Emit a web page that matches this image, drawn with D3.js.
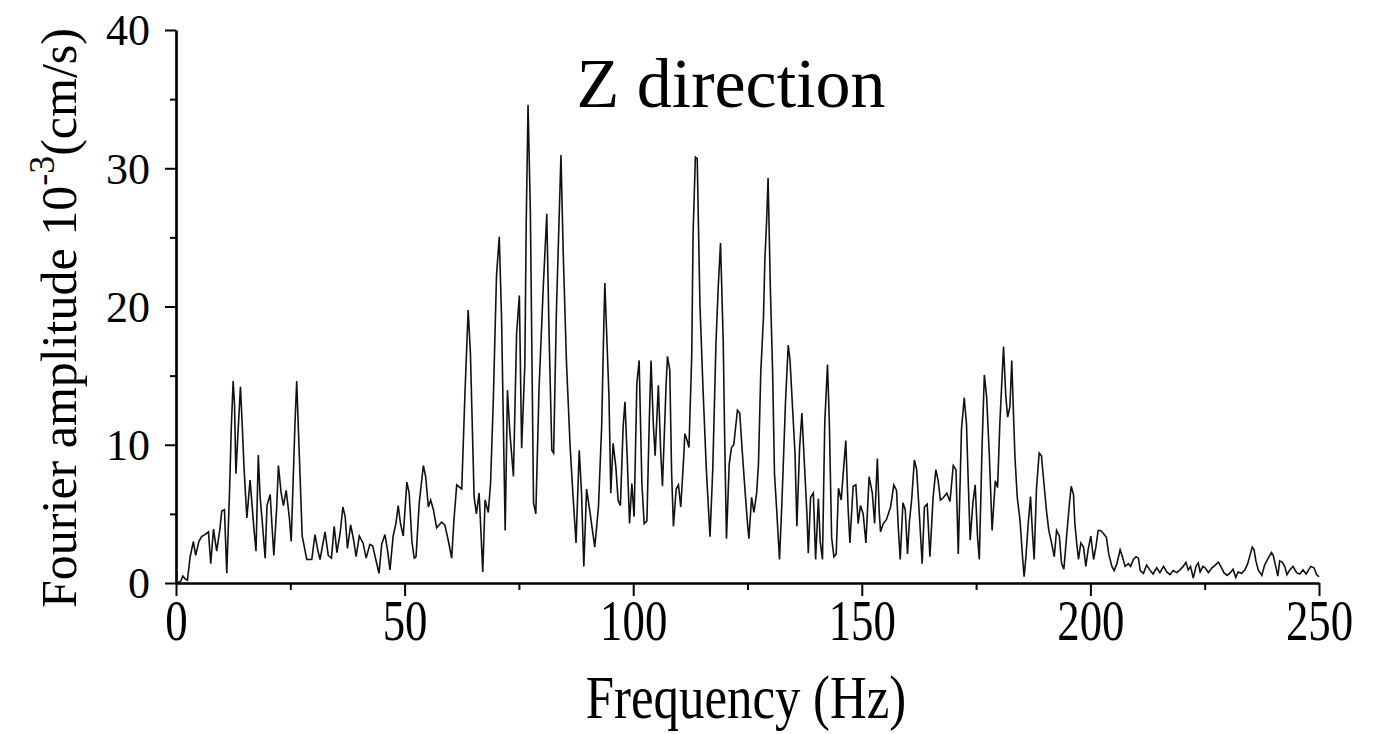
<!DOCTYPE html>
<html>
<head>
<meta charset="utf-8">
<script src="https://cdn.jsdelivr.net/npm/d3@7/dist/d3.min.js"></script>
<style>
  html, body { margin: 0; padding: 0; background: #fff; }
  svg { display: block; }
  text { font-family: "Liberation Serif", "Times New Roman", serif; fill: #000; }
</style>
</head>
<body>
<svg id="chart" width="1377" height="734"></svg>
<script>
// Fourier amplitude spectrum, Z direction (frequency in Hz, amplitude in 10^-3 cm/s)
const freqHz = [
  0.0, 1.0, 1.5, 2.0, 2.5, 3.1, 3.8, 4.3, 5.0, 5.6, 6.3, 7.1, 7.6, 8.2, 8.9, 9.6, 10.0, 10.6, 11.1, 11.7,
  12.1, 12.5, 12.8, 13.1, 13.5, 14.1, 14.5, 14.9, 15.5, 16.2, 16.6, 17.0, 17.5, 18.0, 18.4, 18.8, 19.5, 19.9, 20.6, 21.0,
  21.4, 22.0, 22.4, 23.0, 23.5, 24.1, 24.8, 25.2, 26.0, 26.4, 27.0, 27.6, 28.6, 29.7, 30.4, 31.0, 31.5, 32.6, 33.3, 34.0,
  34.6, 35.2, 35.9, 36.5, 37.0, 37.5, 38.2, 38.8, 39.4, 40.1, 40.9, 41.6, 42.4, 43.0, 43.7, 44.4, 45.0, 45.7, 46.3, 46.8,
  47.5, 48.1, 48.6, 49.1, 49.7, 50.5, 51.0, 51.6, 52.1, 52.5, 53.2, 54.1, 54.6, 55.2, 55.7, 56.3, 57.0, 58.1, 58.8, 59.6,
  60.3, 60.8, 61.4, 62.5, 63.2, 63.9, 64.4, 65.2, 65.7, 66.3, 67.1, 67.6, 68.3, 68.8, 69.4, 70.1, 70.7, 71.2, 72.0, 72.5,
  73.0, 73.8, 74.5, 75.1, 75.6, 76.3, 76.6, 77.0, 77.5, 78.2, 78.7, 79.4, 80.3, 81.1, 81.6, 82.2, 82.6, 83.2, 84.2, 84.7,
  85.4, 86.2, 86.8, 87.5, 88.2, 88.7, 89.2, 89.8, 90.6, 91.0, 91.6, 92.4, 93.1, 93.6, 93.8, 94.3, 94.7, 95.1, 95.6, 96.2,
  96.7, 97.2, 97.8, 98.2, 98.7, 99.2, 99.7, 100.2, 100.8, 101.3, 101.9, 102.4, 103.0, 103.5, 103.9, 104.4, 104.8, 105.5, 106.0, 106.4,
  107.2, 107.5, 108.0, 108.4, 108.8, 109.4, 109.9, 110.4, 111.0, 111.3, 111.8, 112.2, 112.8, 113.1, 113.6, 114.0, 114.6, 115.3, 116.0, 116.8,
  117.4, 118.1, 118.6, 119.1, 119.7, 120.0, 120.4, 121.0, 121.5, 122.0, 122.8, 123.3, 123.9, 124.5, 125.0, 125.3, 125.9, 126.4, 127.0, 127.4,
  127.9, 128.5, 128.8, 129.2, 129.5, 130.0, 130.5, 130.9, 131.4, 132.0, 132.5, 132.8, 133.3, 133.9, 134.3, 134.9, 135.4, 135.8, 136.4, 136.9,
  137.4, 138.0, 138.3, 138.8, 139.4, 139.9, 140.5, 140.9, 141.4, 141.9, 142.5, 142.9, 143.4, 143.9, 144.4, 144.9, 145.5, 146.0, 146.5, 147.0,
  147.4, 148.1, 148.7, 149.2, 149.7, 150.3, 150.9, 151.6, 152.3, 152.8, 153.4, 153.8, 154.1, 154.7, 155.4, 156.3, 157.0, 157.6, 158.0, 158.4,
  159.0, 159.5, 160.0, 160.4, 160.9, 161.5, 162.0, 162.6, 163.2, 163.7, 164.3, 164.9, 165.6, 166.2, 166.7, 167.2, 167.9, 168.6, 169.3, 170.0,
  170.6, 171.1, 171.8, 172.4, 172.9, 173.2, 173.7, 174.3, 174.8, 175.3, 175.7, 176.3, 176.8, 177.3, 177.9, 178.5, 179.2, 179.7, 180.2, 181.0,
  181.5, 181.9, 182.4, 182.8, 183.2, 183.5, 184.0, 184.6, 185.2, 185.5, 185.9, 186.4, 186.9, 187.3, 187.7, 188.2, 188.8, 189.3, 189.7, 190.4,
  190.9, 191.5, 192.1, 192.6, 193.2, 193.7, 194.2, 194.8, 195.4, 195.8, 196.3, 196.6, 197.0, 197.4, 197.9, 198.5, 199.0, 199.5, 200.1, 200.7,
  201.2, 201.7, 202.2, 202.8, 203.5, 204.0, 204.7, 205.2, 205.8, 206.5, 207.0, 207.6, 208.3, 208.8, 209.4, 210.0, 210.5, 210.9, 211.6, 212.3,
  213.0, 213.7, 214.5, 215.2, 216.0, 216.7, 217.4, 218.1, 218.9, 219.6, 220.3, 220.9, 221.4, 221.9, 222.5, 223.1, 223.6, 224.0, 224.6, 225.1,
  225.8, 226.6, 227.3, 228.0, 228.7, 229.2, 229.9, 230.6, 231.2, 231.8, 232.3, 233.1, 233.8, 234.4, 234.9, 235.4, 235.8, 236.2, 236.7, 237.5,
  238.1, 238.9, 239.6, 240.0, 240.4, 241.0, 241.4, 242.0, 242.5, 243.0, 243.6, 244.3, 245.1, 245.8, 246.5, 247.2, 248.2, 248.9, 249.5, 250.0
];

const amplitude = [
  0.0, 0.1, 0.5, 0.3, 0.2, 1.9, 3.0, 2.0, 3.0, 3.35, 3.5, 3.7, 1.4, 3.9, 2.3, 3.9, 5.2, 5.3, 0.7, 6.5,
  11.3, 14.6, 12.9, 7.9, 10.5, 14.2, 11.3, 8.2, 4.7, 7.45, 5.8, 4.1, 2.3, 9.25, 6.2, 4.7, 1.8, 5.6, 6.4, 4.1,
  2.0, 5.3, 8.5, 6.5, 5.6, 6.7, 4.7, 3.0, 11.3, 14.6, 9.0, 3.4, 1.7, 1.7, 3.5, 2.4, 1.7, 3.7, 2.0, 1.8,
  4.1, 2.2, 3.6, 5.5, 4.8, 2.5, 4.2, 3.2, 1.9, 3.4, 2.9, 1.8, 2.8, 2.7, 1.7, 0.7, 2.8, 3.5, 2.3, 0.95,
  3.4, 4.3, 5.6, 4.3, 3.4, 7.3, 6.5, 3.0, 1.8, 1.9, 5.8, 8.5, 7.7, 5.5, 6.0, 5.3, 4.0, 4.4, 4.2, 3.0,
  1.8, 4.6, 7.1, 6.8, 13.7, 19.75, 16.6, 6.25, 5.0, 6.5, 0.8, 6.0, 5.1, 7.2, 13.2, 22.2, 25.05, 19.3, 3.8, 13.95,
  11.0, 7.7, 18.05, 20.8, 9.75, 15.8, 26.0, 34.6, 27.0, 5.8, 5.0, 14.0, 21.2, 26.7, 18.0, 9.6, 9.4, 19.6, 30.95, 23.8,
  16.0, 9.9, 6.5, 2.9, 9.6, 6.5, 1.2, 6.8, 5.0, 4.0, 2.6, 5.5, 11.3, 19.1, 21.7, 17.1, 13.5, 6.5, 10.1, 8.4,
  6.0, 5.6, 11.3, 13.1, 9.0, 4.3, 7.2, 4.8, 14.45, 16.1, 7.2, 4.3, 4.5, 11.5, 16.1, 11.5, 9.2, 14.3, 9.6, 7.0,
  14.4, 16.4, 15.4, 8.0, 4.1, 6.8, 7.1, 5.5, 8.8, 10.8, 10.3, 9.8, 16.4, 25.3, 30.8, 30.7, 20.1, 13.8, 8.2, 3.35,
  8.2, 17.3, 21.4, 24.6, 17.3, 10.6, 3.2, 8.6, 9.8, 10.0, 12.5, 12.3, 9.3, 6.5, 4.3, 3.2, 6.2, 5.1, 6.5, 8.6,
  15.2, 19.3, 23.4, 26.3, 29.3, 21.3, 15.2, 7.9, 5.2, 1.7, 5.6, 8.3, 13.0, 17.2, 16.1, 12.4, 9.3, 4.1, 9.8, 12.3,
  8.9, 5.0, 2.15, 6.2, 6.5, 1.7, 6.1, 3.0, 1.7, 11.6, 15.8, 11.6, 3.3, 1.9, 2.1, 6.85, 6.0, 8.2, 10.3, 5.4,
  2.9, 7.0, 7.1, 4.3, 5.6, 5.0, 2.9, 7.7, 6.5, 4.3, 9.0, 5.2, 3.7, 4.3, 4.6, 5.5, 7.1, 6.7, 3.9, 1.7,
  5.8, 5.3, 2.1, 4.4, 6.0, 8.9, 8.2, 4.9, 1.4, 5.5, 5.7, 1.9, 6.2, 8.2, 7.4, 6.0, 6.2, 6.5, 5.9, 8.5,
  8.2, 2.1, 11.1, 13.4, 11.5, 8.2, 3.1, 5.8, 7.1, 3.4, 1.7, 9.8, 15.05, 13.5, 9.2, 3.8, 7.4, 6.9, 11.6, 17.1,
  13.5, 12.0, 12.75, 16.1, 12.0, 9.1, 6.2, 4.55, 1.7, 0.45, 1.9, 4.3, 6.25, 3.8, 1.7, 6.8, 9.4, 9.2, 7.7, 5.2,
  3.8, 2.9, 1.9, 3.8, 3.4, 1.4, 1.0, 3.4, 5.7, 7.0, 6.4, 4.3, 2.9, 1.7, 2.9, 2.6, 1.2, 2.4, 3.4, 1.7,
  2.6, 3.8, 3.8, 3.6, 3.3, 2.1, 1.2, 0.9, 1.4, 2.4, 1.9, 1.2, 1.4, 1.2, 1.7, 1.9, 1.8, 0.9, 0.7, 1.3,
  0.95, 0.65, 1.1, 0.75, 1.2, 0.8, 0.6, 0.9, 0.75, 0.95, 1.2, 1.5, 0.95, 1.2, 0.35, 1.2, 1.45, 0.8, 1.2, 1.1,
  0.75, 1.1, 1.3, 1.5, 1.1, 0.75, 0.55, 0.75, 1.0, 0.4, 0.8, 0.7, 0.95, 1.4, 2.0, 2.6, 2.4, 1.6, 0.95, 0.55,
  1.3, 1.8, 2.2, 2.0, 1.4, 0.5, 1.6, 1.5, 1.2, 0.6, 0.95, 1.2, 0.75, 0.65, 0.95, 0.65, 1.2, 1.1, 0.6, 0.45
];

const xMajorTicks = [0, 50, 100, 150, 200, 250];
const xMinorTicks = [25, 75, 125, 175, 225];
const yMajorTicks = [0, 10, 20, 30, 40];
const yMinorTicks = [5, 15, 25, 35];

const titleText = "Z direction";
const xTitle = "Frequency (Hz)";
const yTitleMain = "Fourier amplitude 10";
const yTitleExp = "-3";
const yTitleUnit = "(cm/s)";

const svg = d3.select("#chart");
const plot = { left: 176, right: 1319, top: 30, bottom: 583 };

const x = d3.scaleLinear().domain([0, 250]).range([plot.left, plot.right]);
const y = d3.scaleLinear().domain([0, 40]).range([plot.bottom, plot.top]);

const series = freqHz.map((f, i) => ({ f, a: amplitude[i] }));

// spectrum trace
svg.append("path")
  .datum(series)
  .attr("fill", "none")
  .attr("stroke", "#111")
  .attr("stroke-width", 1.6)
  .attr("stroke-linejoin", "miter")
  .attr("d", d3.line().x(d => x(d.f)).y(d => y(d.a)));

// axes
function styleAxis(g) {
  g.select(".domain").attr("stroke", "#000").attr("stroke-width", 2.2);
  g.selectAll(".tick line").attr("stroke", "#000").attr("stroke-width", 2);
}

const xAxisMajor = svg.append("g")
  .attr("transform", `translate(0,${plot.bottom})`)
  .call(d3.axisBottom(x).tickValues(xMajorTicks).tickSize(13).tickSizeOuter(0).tickFormat(d3.format("d")));
styleAxis(xAxisMajor);
// condensed tick labels, centred under each tick
xAxisMajor.selectAll(".tick text")
  .attr("font-size", 56)
  .attr("x", 0)
  .attr("y", 0)
  .attr("dy", 0)
  .attr("transform", "translate(0,57) scale(0.8,1)")
  .style("font-family", "'Liberation Serif', serif");

const xAxisMinor = svg.append("g")
  .attr("transform", `translate(0,${plot.bottom})`)
  .call(d3.axisBottom(x).tickValues(xMinorTicks).tickSize(7).tickSizeOuter(0).tickFormat(""));
styleAxis(xAxisMinor);

const yAxisMajor = svg.append("g")
  .attr("transform", `translate(${plot.left},0)`)
  .call(d3.axisLeft(y).tickValues(yMajorTicks).tickSize(11).tickSizeOuter(0).tickFormat(d3.format("d")));
styleAxis(yAxisMajor);
yAxisMajor.selectAll(".tick text")
  .attr("font-size", 44)
  .attr("x", -26)
  .attr("dy", "0.34em")
  .style("font-family", "'Liberation Serif', serif");

const yAxisMinor = svg.append("g")
  .attr("transform", `translate(${plot.left},0)`)
  .call(d3.axisLeft(y).tickValues(yMinorTicks).tickSize(6).tickSizeOuter(0).tickFormat(""));
styleAxis(yAxisMinor);

// titles
svg.append("text")
  .attr("x", 731)
  .attr("y", 107)
  .attr("text-anchor", "middle")
  .attr("font-size", 70)
  .text(titleText);

svg.append("text")
  .attr("text-anchor", "middle")
  .attr("font-size", 62)
  .attr("transform", "translate(746,718) scale(0.82,1)")
  .text(xTitle);

const yt = svg.append("text")
  .attr("text-anchor", "middle")
  .attr("font-size", 50)
  .attr("transform", "translate(76,318) rotate(-90)");
yt.append("tspan").text(yTitleMain);
yt.append("tspan").attr("font-size", 36).attr("dy", -22).text(yTitleExp);
yt.append("tspan").attr("dy", 22).text(yTitleUnit);
</script>
</body>
</html>
